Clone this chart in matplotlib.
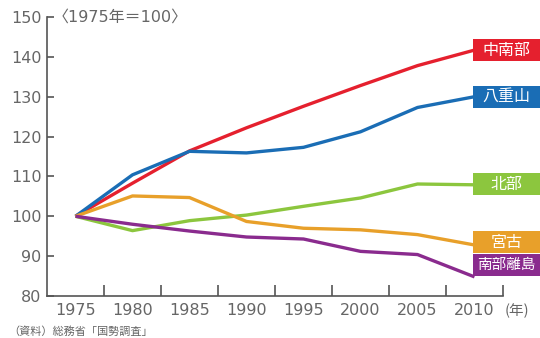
import matplotlib
matplotlib.use("Agg")
import matplotlib.pyplot as plt
from matplotlib.patches import Rectangle
from matplotlib.transforms import blended_transform_factory

plt.rcParams['font.family'] = ['Noto Sans CJK JP', 'DejaVu Sans']

years = ["1975", "1980", "1985", "1990", "1995", "2000", "2005", "2010"]
chunanbu = [100, 108.3, 116.4, 122.2, 127.6, 132.8, 137.8, 141.7]
yaeyama = [100, 110.4, 116.3, 115.9, 117.3, 121.2, 127.3, 130.0]
hokubu = [100, 96.4, 98.9, 100.3, 102.5, 104.6, 108.1, 107.9]
miyako = [100, 105.1, 104.7, 98.7, 97.0, 96.6, 95.4, 92.8]
nanbu_ritou = [100, 98.0, 96.3, 94.8, 94.3, 91.2, 90.4, 84.8]

names = ["中南部", "八重山", "北部", "宮古", "南部離島"]
series = [chunanbu, yaeyama, hokubu, miyako, nanbu_ritou]
colors = ["#E5202E", "#1A6DB5", "#8CC63E", "#E8A02A", "#8A2B8E"]
label_y = [141.7, 130.0, 108.0, 93.5, 87.8]
label_size = [11.5, 11.5, 11.5, 11.5, 10.5]

fig = plt.figure(figsize=(5.40, 3.38), dpi=100)
ax = fig.add_axes([47/540, 1-296/338, (503-47)/540, (296-17)/338])

x = list(range(len(years)))
for vals, c in zip(series, colors):
    ax.plot(x, vals, color=c, lw=2.4, solid_capstyle='butt', solid_joinstyle='round', zorder=3)

ax.set_xlim(-0.5, 7.5)
ax.set_ylim(80, 150)
for s in ['top', 'right']:
    ax.spines[s].set_visible(False)
for s in ['left', 'bottom']:
    ax.spines[s].set_color('#555555')
    ax.spines[s].set_linewidth(1.2)

gray = '#666666'
num_font = ['DejaVu Sans', 'Noto Sans CJK JP']
ax.set_yticks(range(80, 151, 10))
ax.set_yticklabels([str(v) for v in range(80, 151, 10)], family=num_font)
ax.tick_params(axis='y', direction='in', length=5, width=1.2, color='#555555',
               labelcolor=gray, labelsize=11.5, pad=4)
ax.set_xticks([i + 0.5 for i in range(8)])
ax.set_xticklabels([])
ax.tick_params(axis='x', direction='in', length=8, width=1.2, color='#555555')
for t in ax.xaxis.get_major_ticks():
    t.tick1line.set_clip_on(False)
for i, yr in enumerate(years):
    ax.text(i, 78.2, yr, ha='center', va='top', fontsize=11.5, color=gray,
            family=num_font)
ax.text(7.52, 78.2, "(年)", ha='left', va='top', fontsize=10.5, color=gray)
ax.text(0.012, 1.0, "〈1975年＝100〉", transform=ax.transAxes, ha='left', va='center',
        fontsize=11.5, color=gray, family=num_font)
fig.text(8/540, 1-332/338, "（資料）総務省「国勢調査」", ha='left', va='center',
         fontsize=8, color=gray)

trans = blended_transform_factory(fig.transFigure, ax.transData)
h = 5.5
for name, c, yy, fs in zip(names, colors, label_y, label_size):
    rect = Rectangle((473/540, yy - h/2), 67/540, h, transform=trans,
                     facecolor=c, edgecolor='none', clip_on=False, zorder=5)
    fig.add_artist(rect)
    fig.text(506.5/540, yy, name, transform=trans, ha='center', va='center',
             fontsize=fs, color='white', zorder=6)

fig.savefig("out.png", dpi=100)
